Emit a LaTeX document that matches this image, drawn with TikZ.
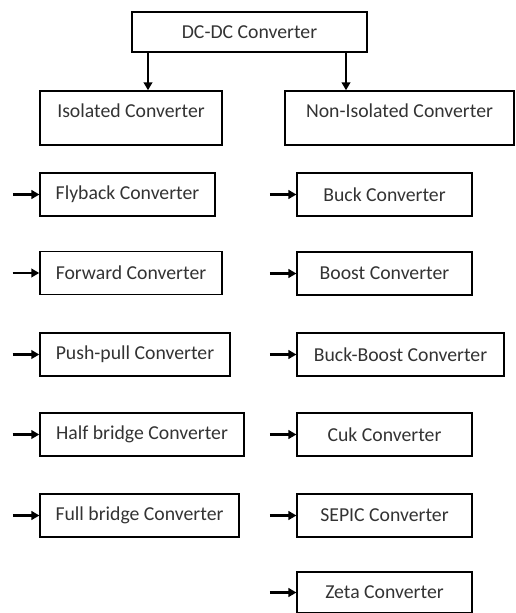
\documentclass[tikz,border=0pt]{standalone}
\usepackage{fontspec}
\setmainfont{Carlito}
\usepackage{tikz}
\usetikzlibrary{arrows.meta}

\tikzset{
    box/.style={draw, line width=1.1pt, inner sep=0pt, minimum height=32pt,
        text=black!80, font=\fontsize{14.8}{17}\selectfont},
    arr/.style={line width=1.6pt, -{Triangle[length=6pt,width=6.5pt]}}
}

\begin{document}
\begin{tikzpicture}[x=0.75pt,y=-0.75pt]
        \useasboundingbox (0,0) rectangle (515,613);
        % Top level
        \node[box, minimum width=176pt, minimum height=30pt] (dcdc) at (249.5,32) {DC-DC Converter};
        % The two families
        \node[box, minimum width=136.5pt, text height=20pt, text depth=20.5pt] (iso) at (131,118) {Isolated Converter};
        \node[box, minimum width=172pt, text height=20pt, text depth=20.5pt] (noniso) at (399.5,118) {Non-Isolated Converter};
        \coordinate (a) at (148,0);
        \coordinate (b) at (346,0);
        \draw[arr] (dcdc.south -| a) -- (a |- iso.north);
        \draw[arr] (dcdc.south -| b) -- (b |- noniso.north);
        % Isolated topologies
        \node[box, minimum width=131pt]   (flyback) at (127.5,194.5) {Flyback Converter};
        \node[box, minimum width=136.5pt] (forward) at (131,273) {Forward Converter};
        \node[box, minimum width=142.5pt] (pushpull) at (135,354.5) {Push-pull Converter};
        \node[box, minimum width=153pt]   (halfbridge) at (142,434.5) {Half bridge Converter};
        \node[box, minimum width=149pt]   (fullbridge) at (139.5,515.5) {Full bridge Converter};
        % Non-isolated topologies
        \node[box, minimum width=131pt] (buck) at (384.5,194.5) {Buck Converter};
        \node[box, minimum width=131pt] (boost) at (384.5,273.5) {Boost Converter};
        \node[box, minimum width=155pt] (buckboost) at (400.5,354.5) {Buck-Boost Converter};
        \node[box, minimum width=131pt] (cuk) at (384.5,434.5) {Cuk Converter};
        \node[box, minimum width=131pt] (sepic) at (384.5,515.5) {SEPIC Converter};
        \node[box, minimum width=131pt, minimum height=31pt] (zeta) at (384.5,592.5) {Zeta Converter};
        % Short feed arrows on the left of each box
        \foreach \n in {flyback,forward,pushpull,halfbridge,fullbridge,buck,boost,buckboost,cuk,sepic,zeta}
            \draw[arr] ([xshift=-20pt]\n.west) -- (\n.west);
    \end{tikzpicture}
\end{document}
